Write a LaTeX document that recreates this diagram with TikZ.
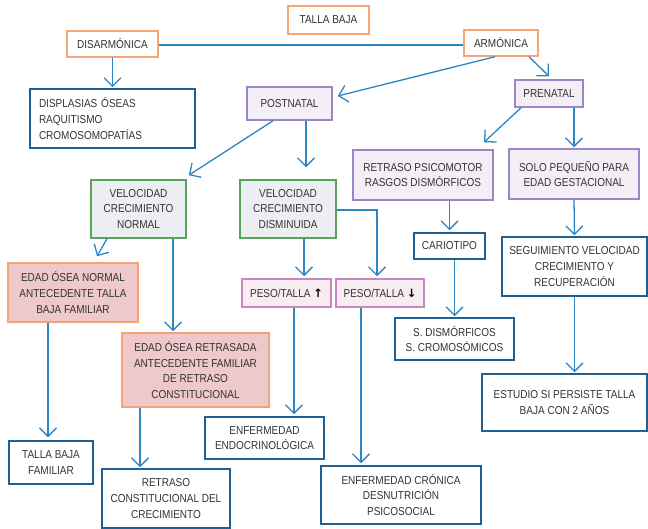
\documentclass[tikz,border=0pt]{standalone}
\usepackage{fontspec}
\setmainfont[FakeStretch=0.87]{Liberation Sans}
\newfontfamily\symfont{DejaVu Sans}
\usetikzlibrary{arrows.meta}

\definecolor{connblue}{HTML}{2B86C2}
\definecolor{darkblue}{HTML}{1F5F93}
\definecolor{orangeline}{HTML}{F5A679}
\definecolor{lavfill}{HTML}{F4EFF7}
\definecolor{lavline}{HTML}{9B86C6}
\definecolor{greenline}{HTML}{5BA35B}
\definecolor{grayfill}{HTML}{ECEEF1}
\definecolor{pinkfill}{HTML}{EEC8CB}
\definecolor{pinkline}{HTML}{F2A472}
\definecolor{rosefill}{HTML}{F7ECEE}
\definecolor{roseline}{HTML}{C986C2}
\definecolor{textgray}{HTML}{333333}

\tikzset{
  basebox/.style={rectangle, line width=1.5pt, inner sep=0pt, align=center,
    text=textgray, font=\fontsize{11.5}{15.8}\selectfont},
  orangebox/.style={basebox, draw=orangeline, fill=white},
  bluebox/.style={basebox, draw=darkblue, fill=white},
  lavbox/.style={basebox, draw=lavline, fill=lavfill},
  greenbox/.style={basebox, draw=greenline, fill=grayfill},
  pinkbox/.style={basebox, draw=pinkline, fill=pinkfill},
  rosebox/.style={basebox, draw=roseline, fill=rosefill},
  sz/.style 2 args={minimum width=#1pt, minimum height=#2pt},
  conn/.style={draw=connblue, line width=1.3pt},
  arr/.style={conn, -{Straight Barb[length=8.5pt,width=17pt]}},
}

\begin{document}
\begin{tikzpicture}[x=1pt, y=-1pt]
\useasboundingbox (0,0) rectangle (648,529);

% top level
\node[orangebox, sz={81}{28}] (talla) at (328.5,20) {TALLA BAJA};
\node[orangebox, sz={91}{26}] (disarm) at (112.5,44) {DISARMÓNICA};
\node[orangebox, sz={74}{26}] (armon) at (501,43) {ARMÓNICA};

% disharmonic branch
\node[bluebox, sz={165}{59}, text width=147pt, align=left] (displ) at (112.5,118.5)
  {DISPLASIAS ÓSEAS\\RAQUITISMO\\CROMOSOMOPATÍAS};

% harmonic branch
\node[lavbox, sz={85}{33}] (postnatal) at (289.5,103.5) {POSTNATAL};
\node[lavbox, sz={68}{27}] (prenatal) at (549,93.5) {PRENATAL};

\node[lavbox, sz={140}{50}] (retpsico) at (423,175) {RETRASO PSICOMOTOR\\RASGOS DISMÓRFICOS};
\node[lavbox, sz={130}{50}] (solo) at (574,174) {SOLO PEQUEÑO PARA\\EDAD GESTACIONAL};

\node[greenbox, sz={95}{58}] (velnorm) at (138.5,209) {VELOCIDAD\\CRECIMIENTO\\NORMAL};
\node[greenbox, sz={96}{58}] (veldism) at (288,209) {VELOCIDAD\\CRECIMIENTO\\DISMINUIDA};

\node[pinkbox, sz={130}{59}] (edadnorm) at (73,292.5) {EDAD ÓSEA NORMAL\\ANTECEDENTE TALLA\\BAJA FAMILIAR};
\node[pinkbox, sz={147}{74}] (edadret) at (195.5,370) {EDAD ÓSEA RETRASADA\\ANTECEDENTE FAMILIAR\\DE RETRASO\\CONSTITUCIONAL};

\node[rosebox, sz={89}{28}] (pesoup) at (286.5,293) {PESO/TALLA {\symfont\bfseries\color{black}↑}};
\node[rosebox, sz={88}{28}] (pesodown) at (380,293) {PESO/TALLA {\symfont\bfseries\color{black}↓}};

\node[bluebox, sz={71}{26}] (cario) at (449.5,246) {CARIOTIPO};
\node[bluebox, sz={119}{42}] (sdism) at (454.5,339) {S. DISMÓRFICOS\\S. CROMOSÓMICOS};
\node[bluebox, sz={145}{59}] (segui) at (574.5,266.5) {SEGUIMIENTO VELOCIDAD\\CRECIMIENTO Y\\RECUPERACIÓN};
\node[bluebox, sz={165}{57}] (estudio) at (564.5,402.5) {ESTUDIO SI PERSISTE TALLA\\BAJA CON 2 AÑOS};

\node[bluebox, sz={119}{42}] (endo) at (264.5,438) {ENFERMEDAD\\ENDOCRINOLÓGICA};
\node[bluebox, sz={160}{58}] (cronica) at (401,495) {ENFERMEDAD CRÓNICA\\DESNUTRICIÓN\\PSICOSOCIAL};
\node[bluebox, sz={84}{43}] (tbfam) at (51,462.5) {TALLA BAJA\\FAMILIAR};
\node[bluebox, sz={128}{59}] (retcons) at (166,498.5) {RETRASO\\CONSTITUCIONAL DEL\\CRECIMIENTO};

% connectors
\draw[conn] ([yshift=-1pt]disarm.east) -- ([yshift=-1pt]disarm.east -| armon.west);
\draw[arr] (disarm.south) -- ([yshift=1pt]displ.north);
\draw[arr] ([xshift=-6pt]armon.south) -- ([xshift=5pt,yshift=7.5pt]postnatal.east);
\draw[arr] ([xshift=28pt]armon.south) -- ([yshift=3pt]prenatal.north);

\draw[arr] ([xshift=-28pt]prenatal.south) -- ([xshift=61pt,yshift=7pt]retpsico.north);
\draw[arr] (solo.north |- prenatal.south) -- ([yshift=1pt]solo.north);

\draw[arr] ([xshift=-16.5pt]postnatal.south) -- ([xshift=2pt,yshift=4pt]velnorm.north east);
\draw[arr] ([xshift=16.5pt]postnatal.south) -- ([xshift=18pt,yshift=12pt]veldism.north);

\draw[arr] ([xshift=-31.5pt]velnorm.south) -- ([xshift=24pt,yshift=6pt]edadnorm.north);
\draw[arr] ([xshift=34.5pt]velnorm.south) -- ([xshift=-22.5pt,yshift=1pt]edadret.north);

\draw[arr] ([xshift=16pt]veldism.south) -- ([xshift=17.5pt,yshift=2pt]pesoup.north);
\draw[arr] ([yshift=-1pt]veldism.east) -| ([xshift=-3pt,yshift=2pt]pesodown.north);

\draw[arr] (cario.north |- retpsico.south) -- ([yshift=2pt]cario.north);
\draw[arr] (sdism.north |- cario.south) -- ([yshift=1pt]sdism.north);

\draw[arr] (solo.south) -- ([yshift=1pt]segui.north);
\draw[arr] (segui.south) -- ([yshift=1pt]segui.south |- estudio.north);

\draw[arr] ([xshift=7.5pt]pesoup.south) -- ([xshift=7.5pt,yshift=2pt]pesoup.south |- endo.north);
\draw[arr] ([xshift=-19pt]pesodown.south) -- ([xshift=-19pt,yshift=2pt]pesodown.south |- cronica.north);

\draw[arr] ([xshift=-25pt]edadnorm.south) -- ([xshift=-25pt,yshift=3pt]edadnorm.south |- tbfam.north);
\draw[arr] ([xshift=-55.5pt]edadret.south) -- ([xshift=-55.5pt,yshift=1pt]edadret.south |- retcons.north);
\end{tikzpicture}
\end{document}
